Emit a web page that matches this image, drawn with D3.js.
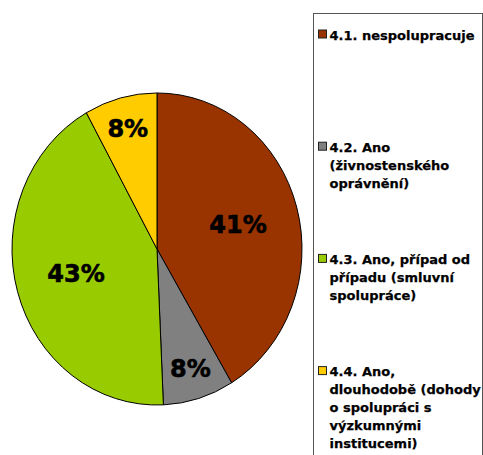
<!DOCTYPE html>
<html>
<head>
<meta charset="utf-8">
<script src="https://cdn.jsdelivr.net/npm/d3@7"></script>
<style>
  body { margin: 0; background: #fff; }
  svg { display: block; }
  .slice { stroke: #000; stroke-width: 1; }
  .pct { font-family: "DejaVu Sans", sans-serif; font-weight: bold; font-size: 24px; fill: #000; stroke: #000; stroke-width: 0.6; }
  .leg { font-family: "DejaVu Sans", sans-serif; font-weight: bold; font-size: 13px; fill: #000; stroke: #000; stroke-width: 0.25; }
</style>
</head>
<body>
<div id="chart"></div>
<script>
// data (share of answers, %)
const categories = ["4.1. nespolupracuje", "4.2. Ano (živnostenského oprávnění)",
                    "4.3. Ano, případ od případu (smluvní spolupráce)",
                    "4.4. Ano, dlouhodobě (dohody o spolupráci s výzkumnými institucemi)"];
const shares = [41.4, 7.9, 42.6, 8.1];
const colors = ["#993300", "#808080", "#99CC00", "#FFCC00"];
// legend text broken into lines like the original
const legendLines = [
    ["4.1. nespolupracuje"],
    ["4.2. Ano", "(živnostenského", "oprávnění)"],
    ["4.3. Ano, případ od", "případu (smluvní", "spolupráce)"],
    ["4.4. Ano,", "dlouhodobě (dohody", "o spolupráci s", "výzkumnými", "institucemi)"]
];

const width = 483, height = 455;
const cx = 157, cy = 249, r = 145, ky = 1.076; // the pie is a bit taller than wide

let svg = d3.select("#chart").append("svg")
            .attr("width", width)
            .attr("height", height);

let data = categories.map((c, i) => ({ name: c, value: shares[i], color: colors[i] }));

let pie = d3.pie().value(d => d.value).sort(null);
let arcs = pie(data);

let arc = d3.arc().innerRadius(0).outerRadius(r);

let pieLayer = svg.append("g")
                  .attr("transform", `translate(${cx},${cy}) scale(1,${ky})`);

pieLayer.selectAll("path")
        .data(arcs)
        .join("path")
        .attr("class", "slice")
        .attr("vector-effect", "non-scaling-stroke")
        .attr("fill", d => d.data.color)
        .attr("d", arc);

// percentage labels: small slices sit further out
svg.append("g").selectAll("text")
   .data(arcs)
   .join("text")
   .attr("class", "pct")
   .attr("text-anchor", "middle")
   .attr("dy", "0.36em")
   .attr("x", d => {
       let f = d.data.value < 10 ? 0.8 : 0.58;
       let a = (d.startAngle + d.endAngle) / 2;
       return cx + Math.sin(a) * r * f;
   })
   .attr("y", d => {
       let f = d.data.value < 10 ? 0.8 : 0.58;
       let a = (d.startAngle + d.endAngle) / 2;
       return cy - Math.cos(a) * r * f * ky;
   })
   .text(d => Math.round(d.data.value) + "%");

// legend box
let legend = svg.append("g");
legend.append("rect")
      .attr("x", 313.5)
      .attr("y", 13.5)
      .attr("width", 169)
      .attr("height", 480)
      .attr("fill", "#fff")
      .attr("stroke", "#555");

let lineH = 18;
let items = legend.selectAll("g.item")
                  .data(data)
                  .join("g")
                  .attr("class", "item")
                  .attr("transform", (d, i) => `translate(318,${39.5 + i * 112.2})`);

items.append("rect")
     .attr("x", 0.5)
     .attr("y", -9.5)
     .attr("width", 8)
     .attr("height", 8)
     .attr("fill", d => d.color)
     .attr("stroke", "#222");

items.append("text")
     .attr("class", "leg")
     .selectAll("tspan")
     .data((d, i) => legendLines[i])
     .join("tspan")
     .attr("x", 11.5)
     .attr("y", (t, j) => j * lineH)
     .text(t => t);
</script>
</body>
</html>
